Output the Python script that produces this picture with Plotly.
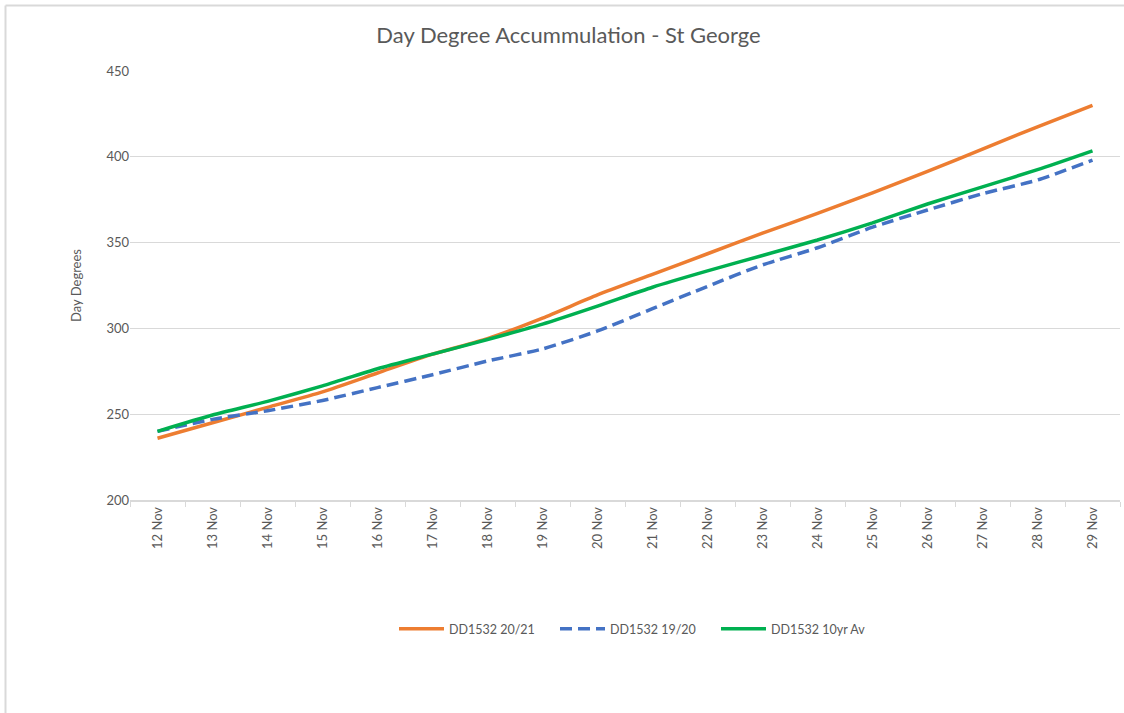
import plotly.graph_objects as go

dates = ["12 Nov", "13 Nov", "14 Nov", "15 Nov", "16 Nov", "17 Nov", "18 Nov", "19 Nov", "20 Nov",
         "21 Nov", "22 Nov", "23 Nov", "24 Nov", "25 Nov", "26 Nov", "27 Nov", "28 Nov", "29 Nov"]
dd_2021 = [236, 245, 254, 263, 274, 285, 294, 306, 319.5, 331.5, 343.5, 355.5, 367, 379, 391.5, 404.5, 417.5, 430]
dd_1920 = [240, 247, 252, 258, 265.5, 273, 281, 288, 298.5, 311.5, 324.5, 337, 347, 359, 369, 378.5, 386.5, 398]
dd_10yr = [240, 249.5, 257.5, 266.5, 276.5, 285, 293.5, 302.5, 313, 324, 333.5, 342.5, 351.5, 361.5, 372.5, 382.5, 392.5, 403.5]

FONT = "Lato, 'Open Sans', sans-serif"
GREY = "#595959"

fig = go.Figure()
fig.add_trace(go.Scatter(x=dates, y=dd_2021, name="DD1532 20/21", mode="lines",
                         line=dict(color="#ED7D31", width=3.5, shape="spline", smoothing=0.6)))
fig.add_trace(go.Scatter(x=dates, y=dd_1920, name="DD1532 19/20", mode="lines",
                         line=dict(color="#4472C4", width=3.5, dash="12px,6px", shape="spline", smoothing=0.6)))
fig.add_trace(go.Scatter(x=dates, y=dd_10yr, name="DD1532 10yr Av", mode="lines",
                         line=dict(color="#00B050", width=3.5, shape="spline", smoothing=0.6)))

fig.update_layout(
    width=1124, height=713,
    margin=dict(l=130, r=4, t=71, b=213, autoexpand=False),
    paper_bgcolor="white", plot_bgcolor="white",
    font=dict(family=FONT, color=GREY, size=13),
    title=dict(text="Day Degree Accummulation - St George", x=(568.5) / 1124, xref="container",
               xanchor="center",
               y=1 - 35 / 713, yanchor="middle", yref="container",
               font=dict(size=22, color=GREY, family=FONT)),
    legend=dict(orientation="h", x=(394 - 130) / 990, xanchor="left",
                y=(500 - 629) / 429, yanchor="middle",
                font=dict(size=12.5, color=GREY, family=FONT), itemwidth=45,
                entrywidth=101, entrywidthmode="pixels"),
    showlegend=True,
    shapes=[
        dict(type="line", xref="paper", yref="paper", x0=(5.5 - 130) / 990, x1=(1124 - 130) / 990,
             y0=(500 - 5.5) / 429, y1=(500 - 5.5) / 429, line=dict(color="#D9D9D9", width=2)),
        dict(type="line", xref="paper", yref="paper", x0=(5.5 - 130) / 990, x1=(5.5 - 130) / 990,
             y0=(500 - 5.5) / 429, y1=(500 - 713) / 429, line=dict(color="#D9D9D9", width=2)),
    ],
)
fig.update_xaxes(type="category", tickson="boundaries", ticks="outside", ticklen=5,
                 tickcolor="#D9D9D9", showline=True, linecolor="#D9D9D9", linewidth=1.5,
                 showgrid=False, tickangle=-90, tickfont=dict(size=13, color=GREY),
                 range=[-0.5, len(dates) - 0.5])
fig.update_yaxes(range=[200, 450], dtick=50, showgrid=True, gridcolor="#D9D9D9", gridwidth=1,
                 zeroline=False, showline=False, ticks="", tickfont=dict(size=13, color=GREY),
                 title=dict(text="Day Degrees", font=dict(size=13, color=GREY), standoff=21))

fig.write_html("out.html", config={"displayModeBar": False},
               post_script="document.body.style.margin='0px';")
